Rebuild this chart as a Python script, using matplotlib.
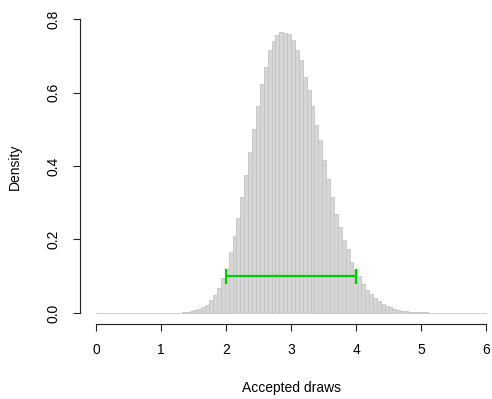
import numpy as np
import matplotlib
matplotlib.use("Agg")
import matplotlib.pyplot as plt

plt.rcParams['font.family'] = ['Liberation Sans', 'DejaVu Sans']

# histogram of accepted draws: 100 bins of width 0.06 on [0, 6]
bin_edges = np.linspace(0, 6, 101)
density = [
    0, 0, 0, 0, 0, 0, 0, 0, 0, 0,
    0, 0, 0, 0, 0, 0, 0, 0, 0, 0,
    0.001, 0.001, 0.002, 0.004, 0.006, 0.009, 0.012, 0.015, 0.023, 0.036,
    0.048, 0.069, 0.095, 0.121, 0.166, 0.210, 0.259, 0.317, 0.376, 0.437,
    0.502, 0.562, 0.624, 0.669, 0.715, 0.740, 0.757, 0.765, 0.763, 0.758,
    0.742, 0.715, 0.688, 0.642, 0.608, 0.562, 0.511, 0.472, 0.417, 0.366,
    0.316, 0.270, 0.234, 0.198, 0.175, 0.139, 0.118, 0.100, 0.078, 0.063,
    0.051, 0.041, 0.032, 0.025, 0.020, 0.015, 0.012, 0.009, 0.006, 0.005,
    0.004, 0.003, 0.003, 0.002, 0.002, 0.001, 0.001, 0.001, 0.0005, 0.0005,
    0.0005, 0.0003, 0.0003, 0.0003, 0.0002, 0.0002, 0.0001, 0.0002, 0.0001, 0.0001,
]

# interval marker
interval_lo = 2.0
interval_hi = 4.0
interval_y = 0.1

W, H = 492, 399
fig = plt.figure(figsize=(W / 100, H / 100), dpi=100)
# axes box in pixels: left 80, right 492, top 15, bottom 324
ax = fig.add_axes([80 / W, (H - 324) / H, (492 - 80) / W, (324 - 15) / H])

ax.bar(bin_edges[:-1], density, width=0.06, align='edge',
       color='#d6d6d6', edgecolor='#c4c4c4', linewidth=0.6)

ax.plot([interval_lo, interval_hi], [interval_y, interval_y], color='#00cd00', lw=1.6,
        solid_capstyle='butt')
for xv in (interval_lo, interval_hi):
    ax.plot([xv, xv], [interval_y - 0.02, interval_y + 0.02], color='#00cd00', lw=1.6,
            solid_capstyle='butt')

ax.set_xlim(-0.246, 6.092)
ax.set_ylim(-0.030, 0.811)

for s in ('top', 'right'):
    ax.spines[s].set_visible(False)
ax.spines['left'].set_bounds(0, 0.8)
ax.spines['bottom'].set_bounds(0, 6)
for s in ('left', 'bottom'):
    ax.spines[s].set_linewidth(0.8)
    ax.spines[s].set_color('#222222')

ax.set_xticks([0, 1, 2, 3, 4, 5, 6])
ax.set_yticks([0.0, 0.2, 0.4, 0.6, 0.8])
ax.set_yticklabels(['0.0', '0.2', '0.4', '0.6', '0.8'], rotation=90, va='center')
ax.tick_params(axis='both', direction='out', length=5, width=0.8, color='#222222',
               labelsize=10)
ax.tick_params(axis='x', pad=9)
ax.tick_params(axis='y', pad=9)

fig.text(15 / W, 1 - 167 / H, 'Density', rotation=90, ha='center', va='center', fontsize=10)
fig.text((96 + 195) / W, 1 - 388 / H, 'Accepted draws', ha='center', va='center', fontsize=10)

fig.savefig('out.png', dpi=100)
